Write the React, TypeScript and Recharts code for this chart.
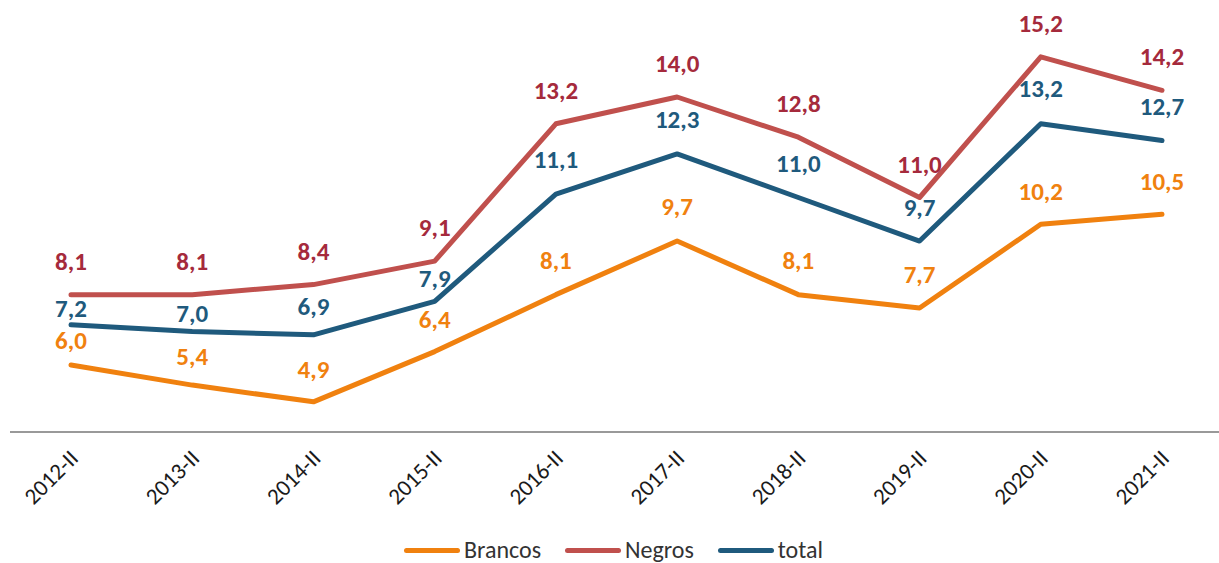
import React from 'react';
import { LineChart, Line, XAxis, YAxis, LabelList } from 'recharts';

const categories = ['2012-II', '2013-II', '2014-II', '2015-II', '2016-II', '2017-II', '2018-II', '2019-II', '2020-II', '2021-II'];
const brancos = [6.0, 5.4, 4.9, 6.4, 8.1, 9.7, 8.1, 7.7, 10.2, 10.5];
const negros = [8.1, 8.1, 8.4, 9.1, 13.2, 14.0, 12.8, 11.0, 15.2, 14.2];
const total = [7.2, 7.0, 6.9, 7.9, 11.1, 12.3, 11.0, 9.7, 13.2, 12.7];

const seriesNames = ['Brancos', 'Negros', 'total'];

const data = categories.map((c, i) => ({ cat: c, Brancos: brancos[i], Negros: negros[i], total: total[i] }));

const FONT = 'Calibri, Carlito, Lato, sans-serif';

// distance (px) between a point and the centre of its value label, as placed in the reference
const labelGapBrancos = [24, 28, 32, 32, 34, 34, 34, 33, 32, 32];
const labelGapNegros = [33, 33, 33, 33, 33, 33, 33, 33, 33, 33];
const labelGapTotal = [16, 18, 28, 22, 34, 34, 34, 33, 35, 34];

const series = [
  { key: 'Brancos', line: '#F0810F', label: '#F0810F', gaps: labelGapBrancos },
  { key: 'Negros', line: '#C0504D', label: '#A52A3C', gaps: labelGapNegros },
  { key: 'total', line: '#1F5A7D', label: '#1F5A7D', gaps: labelGapTotal },
];

const makeLabel = (color: string, gaps: number[]) => (props: any) => {
  const { x, y, value, index } = props;
  const gap = gaps[index] ?? 33;
  return (
    <text
      x={x}
      y={y - gap + 8}
      textAnchor="middle"
      fill={color}
      fontFamily={FONT}
      fontWeight={700}
      fontSize={25}
    >
      {Number(value).toFixed(1).replace('.', ',')}
    </text>
  );
};

const Tick = (props: any) => {
  const { x, y, payload } = props;
  return (
    <text
      x={x + 3}
      y={y + 14}
      transform={`rotate(-45, ${x + 3}, ${y + 14})`}
      textAnchor="end"
      dominantBaseline="central"
      fill="#1a1a1a"
      fontFamily={FONT}
      fontSize={23}
    >
      {payload.value}
    </text>
  );
};

export default function App() {
  return (
    <div style={{ position: 'fixed', left: 0, top: 0, width: 1219, height: 563, overflow: 'hidden', background: '#fff' }}>
      <LineChart width={1223} height={563} data={data} margin={{ top: 30, right: 0, bottom: 0, left: 10 }}>
        <XAxis
          dataKey="cat"
          height={131}
          interval={0}
          padding={{ left: 61, right: 61 }}
          axisLine={{ stroke: '#999', strokeWidth: 2 }}
          tickLine={false}
          tick={<Tick />}
        />
        <YAxis hide domain={[4, 16]} type="number" />
        {series.map((s) => (
          <Line
            key={s.key}
            dataKey={s.key}
            stroke={s.line}
            strokeWidth={5}
            strokeLinecap="round"
            strokeLinejoin="round"
            dot={false}
            activeDot={false}
            isAnimationActive={false}
          >
            <LabelList dataKey={s.key} content={makeLabel(s.label, s.gaps)} />
          </Line>
        ))}
      </LineChart>
      <div style={{ position: 'absolute', top: 539, left: 4, width: 1219, display: 'flex', justifyContent: 'center', fontFamily: FONT, fontSize: 24, color: '#333' }}>
        {series.map((s, i) => (
          <div key={s.key} style={{ display: 'flex', alignItems: 'center', marginLeft: i === 0 ? 0 : 24, marginRight: 0 }}>
            <span style={{ display: 'inline-block', width: 56, height: 5, borderRadius: 3, background: s.line, marginRight: 4 }} />
            <span style={{ lineHeight: '22px' }}>{seriesNames[i]}</span>
          </div>
        ))}
      </div>
    </div>
  );
}
